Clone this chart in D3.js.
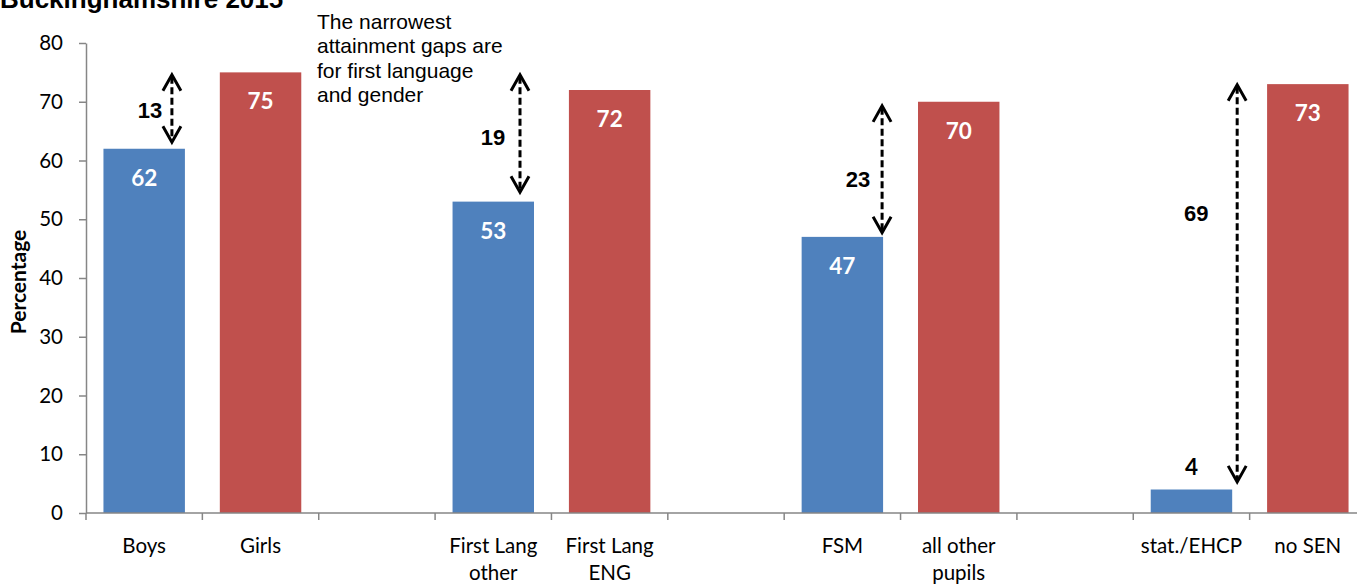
<!DOCTYPE html>
<html>
<head>
<meta charset="utf-8">
<script src="https://cdn.jsdelivr.net/npm/d3@7"></script>
<style>
  html, body { margin: 0; padding: 0; background: #fff; }
  svg { display: block; }
</style>
</head>
<body>
<svg id="chart" width="1357" height="585"></svg>
<script>
// Attainment by pupil group, Buckinghamshire 2015 (%)
const categories = ["Boys", "Girls", "", "First Lang\nother", "First Lang\nENG", "",
                    "FSM", "all other\npupils", "", "stat./EHCP", "no SEN"];
const values = [62, 75, null, 53, 72, null, 47, 70, null, 4, 73];
const series = ["group", "comparison", null, "group", "comparison", null,
                "group", "comparison", null, "group", "comparison"];
const yTicks = [0, 10, 20, 30, 40, 50, 60, 70, 80];

// Gap annotations: size of gap, arrow span and label height (in %)
const gaps = [13, 19, 23, 69];
const gapBar = [0, 3, 6, 9];
const gapFrom = [63.1, 54.6, 47.7, 5.3];
const gapTo = [74.6, 74.6, 69.3, 72.9];
const gapLabelAt = [68.6, 64.0, 56.8, 51.0];

const note = ["The narrowest", "attainment gaps are", "for first language", "and gender"];

// layout
const arrowDx = [-13, -14, -1, 5];
const labelDx = [-22, -27, -24, -41];
const colours = { group: "#4F81BD", comparison: "#C0504D" };
const axisColour = "#868686";

const svg = d3.select("#chart");
const keys = categories.map((c, i) => i);

const x = d3.scaleBand()
  .domain(keys)
  .range([86, 1366])
  .paddingInner(0.3)
  .paddingOuter(0.15);

const y = d3.scaleLinear().domain([0, 80]).range([513, 43]);

// title (partly above the top edge)
svg.append("text")
  .attr("x", 0).attr("y", 8)
  .attr("font-family", "Liberation Sans, Arial, sans-serif")
  .attr("font-weight", "bold")
  .attr("font-size", 26)
  .text("Buckinghamshire 2015");

// y axis
const yAxis = svg.append("g").attr("transform", `translate(${x.range()[0]},0)`)
  .call(d3.axisLeft(y).tickValues(yTicks).tickSize(7).tickPadding(16).tickSizeOuter(0));
yAxis.select(".domain").attr("stroke", axisColour).attr("stroke-width", 1.5);
yAxis.selectAll(".tick line").attr("stroke", axisColour).attr("stroke-width", 1.5);
yAxis.selectAll(".tick text")
  .attr("font-family", "Lato, sans-serif")
  .attr("font-size", 20.5)
  .attr("fill", "#000");

// y axis title
svg.append("text")
  .attr("transform", `translate(26,${(y(0) + y(80)) / 2 + 4}) rotate(-90)`)
  .attr("text-anchor", "middle")
  .attr("font-family", "Lato, sans-serif")
  .attr("font-weight", "bold")
  .attr("font-size", 21)
  .text("Percentage");

// bars
svg.append("g").selectAll("rect")
  .data(keys.filter(i => values[i] != null))
  .join("rect")
  .attr("x", i => x(i))
  .attr("width", x.bandwidth())
  .attr("y", i => y(values[i]))
  .attr("height", i => y(0) - y(values[i]))
  .attr("fill", i => colours[series[i]]);

// value labels
svg.append("g").selectAll("text")
  .data(keys.filter(i => values[i] != null))
  .join("text")
  .attr("x", i => x(i) + x.bandwidth() / 2)
  .attr("y", i => values[i] > 10 ? y(values[i]) + 37 : y(values[i]) - 15)
  .attr("text-anchor", "middle")
  .attr("font-family", "Lato, sans-serif")
  .attr("font-weight", "bold")
  .attr("font-size", 22.5)
  .attr("fill", i => values[i] > 10 ? "#fff" : "#000")
  .text(i => values[i]);

// x axis: line and ticks at category boundaries
const xg = svg.append("g");
const [x0, x1] = x.range();
xg.append("line")
  .attr("x1", x0).attr("x2", x1)
  .attr("y1", y(0)).attr("y2", y(0))
  .attr("stroke", axisColour).attr("stroke-width", 1.5);
xg.selectAll("line.tick")
  .data(d3.range(categories.length + 1))
  .join("line")
  .attr("class", "tick")
  .attr("x1", i => x0 + i * x.step()).attr("x2", i => x0 + i * x.step())
  .attr("y1", y(0)).attr("y2", y(0) + 7)
  .attr("stroke", axisColour).attr("stroke-width", 1.5);

// category labels
const cat = xg.selectAll("text.cat")
  .data(keys.filter(i => categories[i]))
  .join("text")
  .attr("class", "cat")
  .attr("text-anchor", "middle")
  .attr("font-family", "Lato, sans-serif")
  .attr("font-size", 20.5)
  .attr("y", y(0) + 40);
cat.selectAll("tspan")
  .data(i => categories[i].split("\n").map(t => ({ t, i })))
  .join("tspan")
  .attr("x", d => x(d.i) + x.bandwidth() / 2)
  .attr("dy", (d, j) => j === 0 ? 0 : 27)
  .text(d => d.t);

// gap arrows
const ag = svg.append("g");
gaps.forEach((g, k) => {
  const ax = x(gapBar[k]) + x.bandwidth() + arrowDx[k];
  const yt = y(gapTo[k]), yb = y(gapFrom[k]);
  ag.append("line")
    .attr("x1", ax).attr("x2", ax)
    .attr("y1", yt + 2).attr("y2", yb - 2)
    .attr("stroke", "#000").attr("stroke-width", 3)
    .attr("stroke-dasharray", "7,3.5");
  ag.append("path")
    .attr("d", `M${ax - 9},${yt + 16}L${ax},${yt}L${ax + 9},${yt + 16}`)
    .attr("fill", "none").attr("stroke", "#000").attr("stroke-width", 3);
  ag.append("path")
    .attr("d", `M${ax - 9},${yb - 16}L${ax},${yb}L${ax + 9},${yb - 16}`)
    .attr("fill", "none").attr("stroke", "#000").attr("stroke-width", 3);
  ag.append("text")
    .attr("x", ax + labelDx[k])
    .attr("y", y(gapLabelAt[k]) + 8)
    .attr("text-anchor", "middle")
    .attr("font-family", "Liberation Sans, Arial, sans-serif")
    .attr("font-weight", "bold")
    .attr("font-size", 22)
    .text(g);
});

// explanatory note
svg.append("text")
  .attr("font-family", "Liberation Sans, Arial, sans-serif")
  .attr("font-size", 21)
  .attr("y", 29)
  .selectAll("tspan")
  .data(note)
  .join("tspan")
  .attr("x", 317)
  .attr("dy", (d, i) => i === 0 ? 0 : 24.3)
  .text(d => d);
</script>
</body>
</html>
